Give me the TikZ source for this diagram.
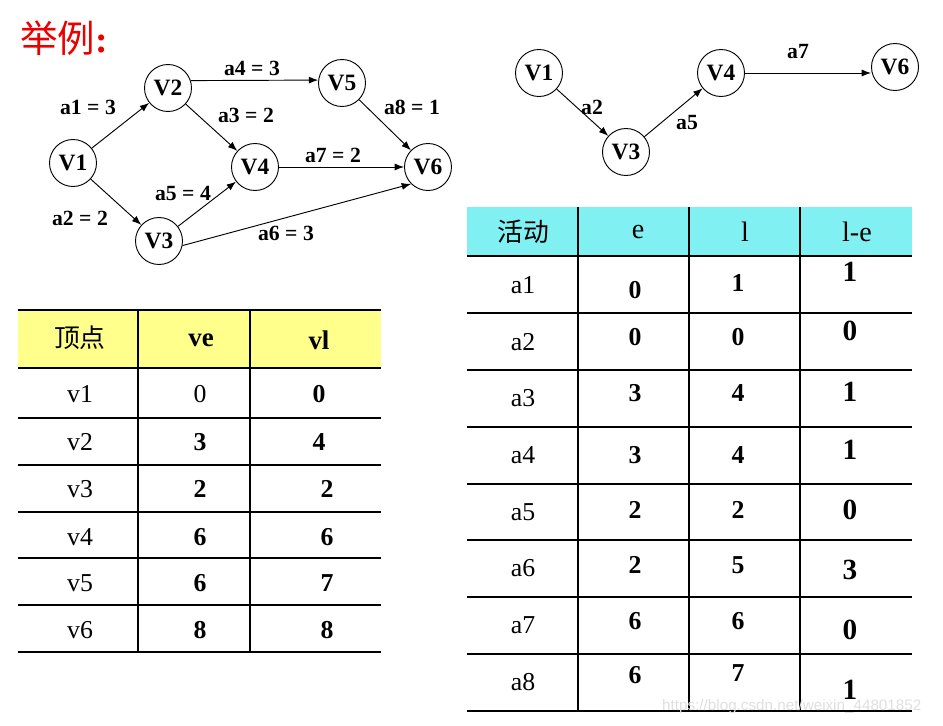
\documentclass[tikz,border=0pt]{standalone}
\usepackage{fontspec}
\setmainfont{Liberation Serif}
\newfontfamily\cjkfont{Noto Sans CJK SC}
\newfontfamily\markfont{Liberation Sans}
\usetikzlibrary{arrows.meta,positioning}
\definecolor{titlered}{RGB}{235,0,0}
\definecolor{headyellow}{RGB}{255,255,140}
\definecolor{headcyan}{RGB}{128,240,242}

\begin{document}
\begin{tikzpicture}[x=0.03cm, y=-0.03cm,
    vertex/.style={draw, circle, minimum size=1.41cm, inner sep=0pt, line width=0.8pt, font=\bfseries\fontsize{20}{20}\selectfont},
    elabel/.style={font=\bfseries\fontsize{18.5}{18.5}\selectfont, inner sep=1pt},
    arc/.style={-{Latex[length=8pt,width=6pt]}, line width=0.8pt},
    rule/.style={line width=0.9pt},
    cell/.style={font=\fontsize{22}{22}\selectfont, inner sep=0pt},
    num/.style={font=\bfseries\fontsize{22}{22}\selectfont, inner sep=0pt},
    bignum/.style={font=\bfseries\fontsize{25}{25}\selectfont, inner sep=0pt}]
  \useasboundingbox (0,0) rectangle (943,726);

  % Title
  \node[anchor=west, text=titlered, inner sep=0pt] (title) at (20,38) {{\cjkfont\fontsize{32}{32}\selectfont 举例}{\bfseries\fontsize{32}{32}\selectfont :}};

  % Full activity network
  \node[vertex] (v1) at (73,163) {V1};
  \node[vertex] (v2) at (168,88) {V2};
  \node[vertex] (v3) at (159,241) {V3};
  \node[vertex] (v4) at (255,167) {V4};
  \node[vertex] (v5) at (342,83) {V5};
  \node[vertex] (v6) at (428,167) {V6};

  \draw[arc] (v1) -- (v2);
  \draw[arc] (v1) -- (v3);
  \draw[arc] (v2) -- (v4);
  \draw[arc] (v2.18) -- (v5.173);
  \draw[arc] (v3) -- (v4);
  \draw[arc] (v3.-11) -- (v6.225);
  \draw[arc] (v4) -- (v6);
  \draw[arc] (v5) -- (v6);

  \node[elabel] (a1) at (88,107) {a1 = 3};
  \node[elabel] (a2) at (80,218) {a2 = 2};
  \node[elabel] (a3) at (246,115) {a3 = 2};
  \node[elabel] (a4) at (252,68) {a4 = 3};
  \node[elabel] (a5) at (183,193) {a5 = 4};
  \node[elabel] (a6) at (286,233) {a6 = 3};
  \node[elabel] (a7) at (333,155) {a7 = 2};
  \node[elabel] (a8) at (412,107) {a8 = 1};

  % Critical path
  \node[vertex] (w1) at (539,73) {V1};
  \node[vertex] (w3) at (626,152) {V3};
  \node[vertex] (w4) at (721,73) {V4};
  \node[vertex] (w6) at (895,67) {V6};

  \draw[arc] (w1) -- (w3);
  \draw[arc] (w3) -- (w4);
  \draw[arc] (w4.east) -- (w4.east -| w6.west);

  \node[elabel] (b2) at (592,107) {a2};
  \node[elabel] (b5) at (687,123) {a5};
  \node[elabel] (b7) at (798,52) {a7};

  % Vertex table
  \fill[headyellow] (18,310) rectangle (381,368);
  \foreach \y in {310,368,418,465,512,558,605,652}
    \draw[rule] (18,\y) -- (381,\y);
  \foreach \x in {138,250}
    \draw[rule] (\x,310) -- (\x,652);
  \node[cell, font=\cjkfont\fontsize{22}{22}\selectfont] (vhead) at (80,338) {顶点};
  \node[num, font=\bfseries\fontsize{23}{23}\selectfont] (vehead) at (201,340) {ve};
  \node[num, font=\bfseries\fontsize{23}{23}\selectfont] (vlhead) at (319,340) {vl};
  \foreach \i/\ve/\vl/\lx/\y in {1/\mdseries 0/0/319/394, 2/3/4/319/442, 3/2/2/327/489, 4/6/6/327/537, 5/6/7/327/583, 6/8/8/327/630} {
    \node[cell] (vn\i) at (80,\y) {v\i};
    \node[num] (ve\i) at (200,\y) {\ve};
    \node[num] (vl\i) at (\lx,\y) {\vl};
  }

  % Activity table
  \fill[headcyan] (467,207) rectangle (912,256);
  \foreach \y in {256,313,370,427,484,540,597,654,711}
    \draw[rule] (467,\y) -- (912,\y);
  \foreach \x in {578,689,800}
    \draw[rule] (\x,207) -- (\x,711);
  \node[cell, font=\cjkfont\fontsize{22}{22}\selectfont] (ahead) at (523,232) {活动};
  \node[cell, font=\fontsize{24}{24}\selectfont] (ehead) at (638,232) {e};
  \node[cell, font=\fontsize{24}{24}\selectfont] (lhead) at (745,232) {l};
  \node[cell, font=\fontsize{24}{24}\selectfont] (dhead) at (857,232) {l-e};
  \foreach \i/\ya/\ye/\e/\yl/\l/\yd/\d in {1/285/290/0/283/1/272/1, 2/342/337/0/337/0/331/0, 3/398/393/3/393/4/392/1, 4/455/455/3/455/4/450/1, 5/512/510/2/510/2/510/0, 6/568/565/2/565/5/570/3, 7/625/621/6/621/6/630/0, 8/682/675/6/673/7/690/1} {
    \node[cell] (an\i) at (523,\ya) {a\i};
    \node[num] (ae\i) at (635,\ye) {\e};
    \node[num] (al\i) at (738,\yl) {\l};
    \node[bignum] (ad\i) at (850,\yd) {\d};
  }

  % Watermark
  \node[anchor=west, text=gray!25, font=\markfont\fontsize{13}{13}\selectfont, inner sep=0pt] (mark) at (662,707) {https://blog.csdn.net/weixin\_44801852};
\end{tikzpicture}
\end{document}
